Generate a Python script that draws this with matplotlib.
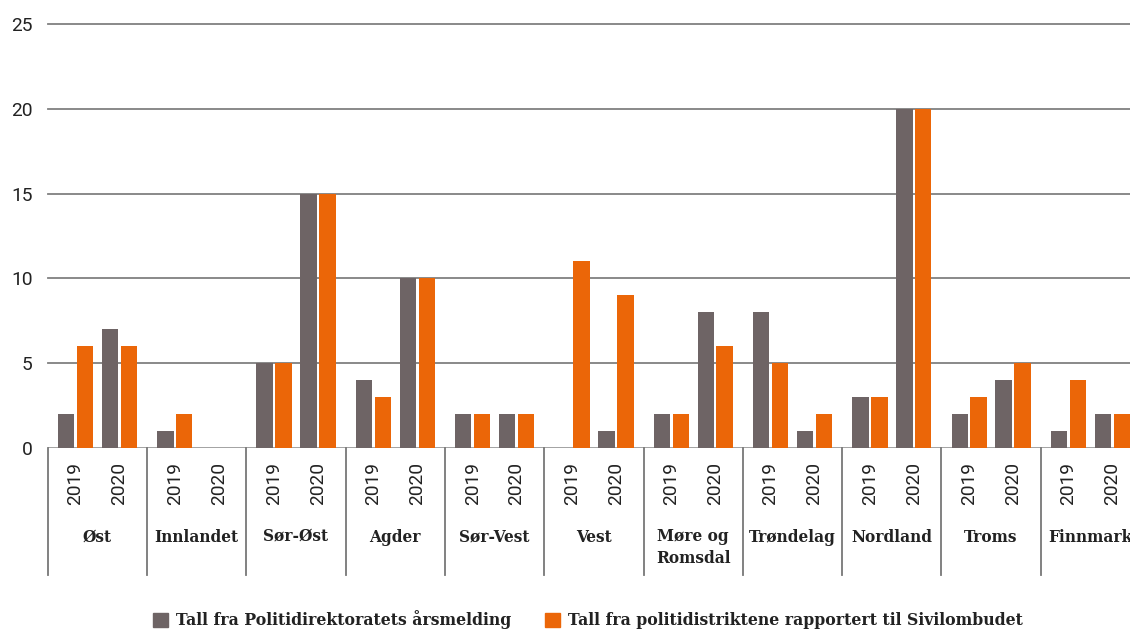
import matplotlib
matplotlib.use("Agg")
import matplotlib.pyplot as plt
from matplotlib.patches import Patch
import matplotlib.transforms as mtransforms
import numpy as np

districts = ["Øst", "Innlandet", "Sør-Øst", "Agder", "Sør-Vest", "Vest",
             "Møre og\nRomsdal", "Trøndelag", "Nordland", "Troms", "Finnmark"]
years = ["2019", "2020"]
# values per district: [2019, 2020]
pod = [[2, 7], [1, 0], [5, 15], [4, 10], [2, 2], [0, 1], [2, 8], [8, 1], [3, 20], [2, 4], [1, 2]]
districts_rep = [[6, 6], [2, 0], [5, 15], [3, 10], [2, 2], [11, 9], [2, 6], [5, 2], [3, 20], [3, 5], [4, 2]]
series_names = ["Tall fra Politidirektoratets årsmelding",
                "Tall fra politidistriktene rapportert til Sivilombudet"]
yticks = [0, 5, 10, 15, 20, 25]

GRAY = "#6e6465"
ORANGE = "#eb6608"
TXT = "#222222"

W, H = 1130, 629
fig = plt.figure(figsize=(W / 100, H / 100), dpi=100)
left_px, right_px = 47.7, 47.7 + 11 * 99.3
top_px, bot_px = 24.2, 447.7
ax = fig.add_axes([left_px / W, 1 - bot_px / H, (right_px - left_px) / W, (bot_px - top_px) / H])

n = len(districts)
year_off = [0.28, 0.722]
bw = 0.165
dx = 0.095
xs = []
for i in range(n):
    for j in range(2):
        xs.append(i + year_off[j])
xs = np.array(xs)
gray_vals = np.array(pod).ravel()
orange_vals = np.array(districts_rep).ravel()

ax.bar(xs - dx, gray_vals, width=bw, color=GRAY, zorder=3)
ax.bar(xs + dx, orange_vals, width=bw, color=ORANGE, zorder=3)

ax.set_xlim(0, n)
ax.set_ylim(0, 25)
ax.set_yticks(yticks)
ax.set_yticklabels([str(t) for t in yticks], fontfamily="Roboto", fontsize=13.8, color=TXT)
ax.tick_params(axis="y", length=0, pad=11)
for t in yticks[1:]:
    ax.axhline(t, color="#808080", lw=1.3, zorder=1, clip_on=False)
ax.axhline(0, color="#999999", lw=2, zorder=2)
for s in ax.spines.values():
    s.set_visible(False)

ax.set_xticks(xs)
ax.set_xticklabels([y for _ in range(n) for y in years], rotation=90,
                   fontfamily="Roboto", fontsize=13.8, color=TXT, va="top")
ax.tick_params(axis="x", length=0, pad=10)

trans = mtransforms.blended_transform_factory(ax.transData, ax.transAxes)
sep_bottom = -(575 - bot_px) / (bot_px - top_px)
for i in range(n + 1):
    ax.plot([i, i], [0, sep_bottom], color="#777777", lw=1.3, transform=trans, clip_on=False)

lab_y = -(537 - bot_px) / (bot_px - top_px)
for i, d in enumerate(districts):
    multi = "\n" in d
    y = -(547.5 - bot_px) / (bot_px - top_px) if multi else lab_y
    ax.text(i + 0.5, y, d, transform=trans, ha="center", va="center",
            fontfamily="DejaVu Serif", fontweight="bold", fontsize=12.3,
            color=TXT, linespacing=1.35, fontstretch="condensed")

handles = [Patch(color=GRAY), Patch(color=ORANGE)]
leg = fig.legend(handles, series_names, loc="center", bbox_to_anchor=(588 / W, 1 - 620 / H),
                 ncol=2, frameon=False, handlelength=0.95, handleheight=0.95,
                 handletextpad=0.5, columnspacing=2.2,
                 prop={"family": "DejaVu Serif", "weight": "bold", "size": 11.3})
for t in leg.get_texts():
    t.set_color(TXT)

fig.savefig("out.png", dpi=100)
